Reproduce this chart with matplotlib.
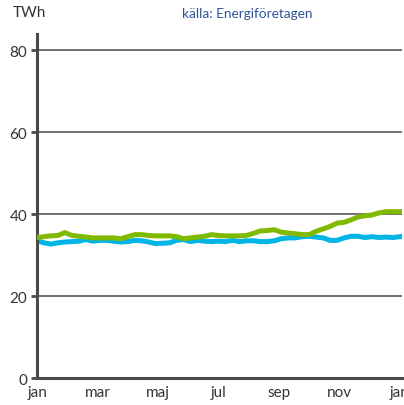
import matplotlib.pyplot as plt

plt.rcParams['font.family'] = ['Lato', 'DejaVu Sans']

# weekly values, TWh
weeks = list(range(53))
green = [34.3, 34.5, 34.7, 34.8, 35.5, 34.8, 34.6, 34.4, 34.2, 34.2, 34.2, 34.2, 34.0,
         34.5, 35.0, 35.0, 34.8, 34.7, 34.7, 34.7, 34.5, 34.0, 34.2, 34.4, 34.6, 35.0,
         34.8, 34.7, 34.7, 34.7, 34.8, 35.3, 35.9, 36.0, 36.2, 35.6, 35.4, 35.2, 35.0,
         35.0, 35.8, 36.4, 37.0, 37.8, 38.0, 38.6, 39.3, 39.6, 39.8, 40.3, 40.6, 40.6, 40.6]
blue = [33.5, 33.0, 32.7, 33.0, 33.2, 33.3, 33.4, 33.8, 33.4, 33.6, 33.6, 33.4, 33.2,
        33.3, 33.6, 33.5, 33.2, 32.8, 32.9, 33.0, 33.6, 33.8, 33.3, 33.6, 33.4, 33.3,
        33.4, 33.3, 33.6, 33.3, 33.5, 33.5, 33.3, 33.3, 33.5, 34.0, 34.2, 34.2, 34.5,
        34.6, 34.4, 34.2, 33.6, 33.6, 34.2, 34.6, 34.6, 34.3, 34.5, 34.3, 34.4, 34.3, 34.5]

month_labels = ['jan', 'mar', 'maj', 'jul', 'sep', 'nov', 'jan']
month_pos = [52 / 6 * i for i in range(7)]
yticks = [0, 20, 40, 60, 80]

fig = plt.figure(figsize=(4.04, 4.06), dpi=100)
ax = fig.add_axes([0.0916, 0.0665, 0.9034, 0.8475])

for y in yticks[1:]:
    ax.axhline(y, color='#4a4a4a', lw=1.1, zorder=1)

ax.plot(weeks, green, color='#7fba00', lw=3.6, solid_joinstyle='round', zorder=3)
ax.plot(weeks, blue, color='#00b4e6', lw=3.6, solid_joinstyle='round', zorder=2)

ax.set_xlim(0, 52.3)
ax.set_ylim(0, 84)
ax.set_xticks(month_pos)
ax.set_xticklabels(month_labels)
ax.set_yticks(yticks)
ax.tick_params(axis='x', length=0, labelsize=11, colors='#333333', pad=5)
ax.tick_params(axis='y', length=4, width=2, color='#4a4a4a', labelsize=11,
               labelcolor='#333333', pad=3)

for s in ['top', 'right']:
    ax.spines[s].set_visible(False)
for s in ['left', 'bottom']:
    ax.spines[s].set_color('#4a4a4a')
    ax.spines[s].set_linewidth(2.2)

fig.text(0.032, 0.968, 'TWh', fontsize=11, color='#333333', va='center', ha='left')
fig.text(0.612, 0.966, 'källa: Energiföretagen', fontsize=9.8, color='#2f5597',
         va='center', ha='center')

fig.savefig('out.png', dpi=100)
